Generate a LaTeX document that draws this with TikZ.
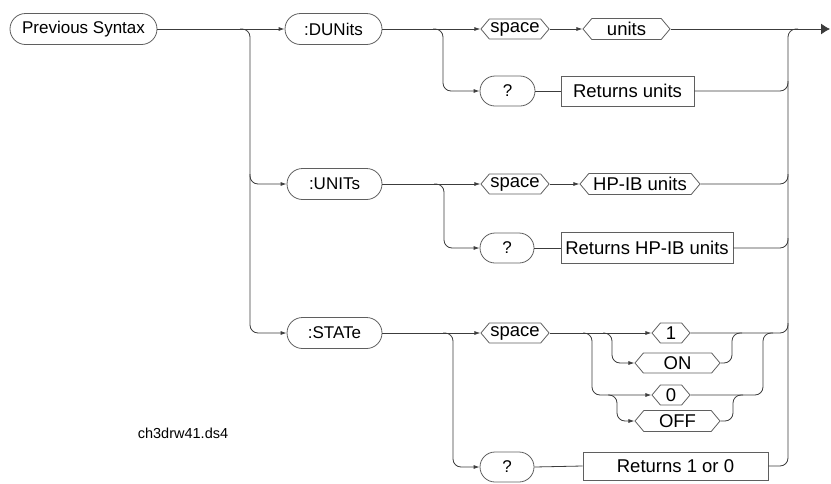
\documentclass[tikz,border=0pt]{standalone}
\usepackage{fontspec}
\setmainfont{Liberation Sans}
\usepackage{tikz}
\usetikzlibrary{arrows.meta, shapes.misc, shapes.symbols, positioning, calc}
\definecolor{railgray}{RGB}{60, 60, 60}
\definecolor{edgegray}{RGB}{95, 95, 95}
\tikzset{
	oval/.style={rounded rectangle, draw=edgegray, line width=0.8pt, minimum height=31pt, inner sep=0pt},
	hexa/.style={signal, signal to=east and west, signal pointer angle=100, draw=edgegray, line width=0.8pt, minimum height=20pt, inner sep=1pt, font=\fontsize{18.5}{20}\selectfont},
	retbox/.style={rectangle, draw=edgegray, line width=0.8pt, minimum height=30pt, inner sep=0pt, font=\fontsize{18.5}{20}\selectfont},
	rail/.style={draw=railgray, line width=0.8pt, rounded corners=8pt},
	into/.style={rail, -{Latex[length=6pt,width=4pt]}}
}

\begin{document}
\begin{tikzpicture}[
    x=1pt, y=-1pt,
    % Sans-serif text like the plotter font
    font=\fontsize{17}{19}\selectfont,
    % Solid exit arrow at the far right
    exitarrow/.style={rail, -{Latex[length=9pt,width=11pt]}}
]
\useasboundingbox (0,0) rectangle (831,483);

% --- COMMAND COLUMN ---
\node[oval, minimum width=147pt] (prev) at (83.5,29) {Previous Syntax};
\node[oval, minimum width=97pt] (cmdDU) at (333.5,29) {:DUNits};
\node[oval, minimum width=95pt] (cmdUN) at (334.5,184) {:UNITs};
\node[oval, minimum width=95pt] (cmdST) at (334.5,333) {:STATe};

% --- :DUNits ROW ---
\node[hexa, minimum width=64pt] (spDU) at (515,29) {space};
\node[hexa, minimum width=87pt, minimum height=21pt] (argDU) at (626.5,29) {units};
\node[oval, minimum width=55pt, minimum height=30pt] (qDU) at (507.5,91) {?};
\node[retbox, minimum width=133pt] (retDU) at (627.5,91) {Returns units};

% --- :UNITs ROW ---
\node[hexa, minimum width=64pt] (spUN) at (515,184) {space};
\node[hexa, minimum width=120pt, minimum height=21pt] (argUN) at (640,184) {HP-IB units};
\node[oval, minimum width=54pt, minimum height=30pt] (qUN) at (507,248) {?};
\node[retbox, minimum width=172pt, minimum height=31pt] (retUN) at (647,248) {Returns HP-IB units};

% --- :STATe ROW ---
\node[hexa, minimum width=64pt] (spST) at (515,333) {space};
\node[hexa, minimum width=38pt] (one) at (671,333) {1};
\node[hexa, minimum width=85pt] (on) at (677.5,363) {ON};
\node[hexa, minimum width=38pt] (zero) at (671,395) {0};
\node[hexa, minimum width=85pt, minimum height=21pt] (off) at (677.5,421) {OFF};
\node[oval, minimum width=54pt, minimum height=30pt] (qST) at (507,467) {?};
\node[retbox, minimum width=185pt, minimum height=28pt] (retST) at (675.5,466) {Returns 1 or 0};

\node[font=\fontsize{14.5}{16}\selectfont] (tag) at (183,433) {ch3drw41.ds4};

% --- FORK AND JOIN POINTS ---
\coordinate (vL) at (250,29);    % left trunk
\coordinate (vR) at (788,29);    % right trunk
\coordinate (fin) at (830,29);
\coordinate (fDU) at (443,29);
\coordinate (fUN) at (444,184);
\coordinate (fST) at (453,333);
\coordinate (fOut) at (592,333); % 1/ON versus 0/OFF
\coordinate (fOn) at (612,333);
\coordinate (fOff) at (617,395);
\coordinate (jOn) at (732,333);
\coordinate (jOff) at (733,395);
\coordinate (jZero) at (763,333);

% --- LEFT TRUNK ---
\draw[into] (prev.east) -- (cmdDU.west);
\draw[into] ($(vL)+(-10,0)$) -- (vL) |- (cmdST.west);
\draw[into] ($(vL |- cmdUN.west)+(0,-10)$) |- (cmdUN.west);

% --- :DUNits PATHS ---
\draw[into] (cmdDU.east) -- (spDU.west);
\draw[into] ($(fDU)+(-10,0)$) -- (fDU) |- (qDU.west);
\draw[into] (spDU.east) -- (argDU.west);
\draw[exitarrow] (argDU.east) -- (fin);
\draw[rail] (qDU.east) -- (retDU.west);
\draw[rail] (retDU.east) -| ($(vR |- retDU.east)+(0,-10)$);

% --- :UNITs PATHS ---
\draw[into] (cmdUN.east) -- (spUN.west);
\draw[into] ($(fUN)+(-10,0)$) -- (fUN) |- (qUN.west);
\draw[into] (spUN.east) -- (argUN.west);
\draw[rail] (argUN.east) -| ($(vR |- argUN.east)+(0,-10)$);
\draw[rail] (qUN.east) -- (retUN.west);
\draw[rail] (retUN.east) -| ($(vR |- retUN.east)+(0,-10)$);

% --- :STATe PATHS ---
\draw[into] (cmdST.east) -- (spST.west);
\draw[into] ($(fST)+(-10,0)$) -- (fST) |- (qST.west);
\draw[into] (spST.east) -- (one.west);
\draw[into] ($(fOut)+(-9,0)$) -- (fOut) |- (zero.west);
\draw[into] ($(fOn)+(-9,0)$) -- (fOn) |- (on.west);
\draw[into] ($(fOff)+(-9,0)$) -- (fOff) |- (off.west);
\draw[rail] (on.east) -| (jOn) -- ($(jOn)+(10,0)$);
\draw[rail] (off.east) -| (jOff) -- ($(jOff)+(10,0)$);
\draw[rail] (zero.east) -| (jZero) -- ($(jZero)+(10,0)$);
\draw[rail] (one.east) -| ($(vR |- one.east)+(0,-10)$);
\draw[rail] (qST.east) -- (retST.west);

% --- RIGHT TRUNK ---
\draw[rail] (retST.east) -| (vR) -- ($(vR)+(10,0)$);

\end{tikzpicture}
\end{document}
